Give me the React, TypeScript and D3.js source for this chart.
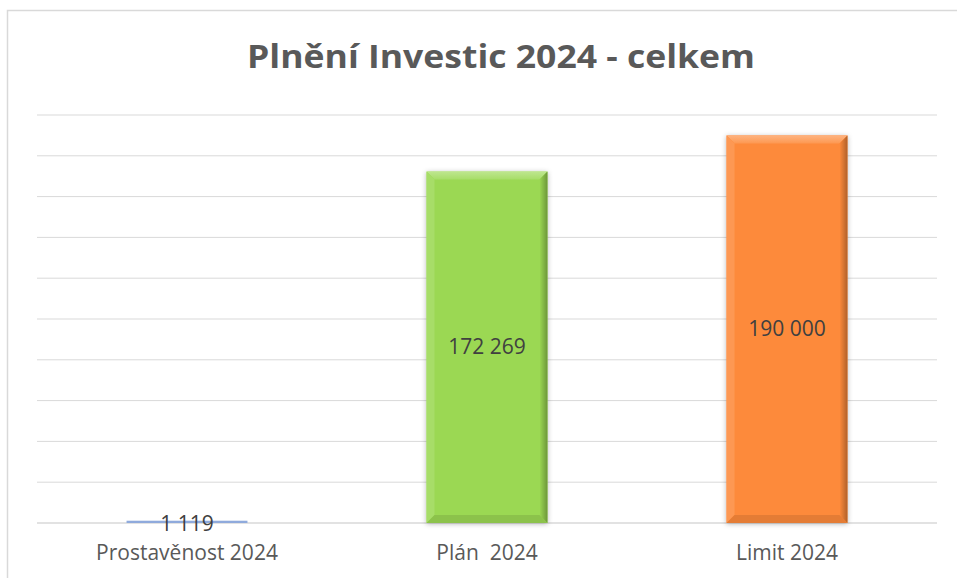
import React from "react";
import * as d3 from "d3";

const categories = ["Prostavěnost 2024", "Plán  2024", "Limit 2024"];
const values = [1119, 172269, 190000];
const valueLabels = ["1 119", "172 269", "190 000"];
const barColors = ["#8FAADC", "#9BD853", "#FD8A3A"];
const yTicks = d3.range(0, 200001, 20000);
const title = "Plnění Investic 2024 - celkem";

const W = 957;
const H = 578;

function BevelBar({ x, y, w, h, color, id }: { x: number; y: number; w: number; h: number; color: string; id: string }) {
  const light = d3.interpolateRgb(color, "#ffffff")(0.35);
  const lightSide = d3.interpolateRgb(color, "#ffffff")(0.12);
  const dark = d3.interpolateRgb(color, "#000000")(0.3);
  const darkBottom = d3.interpolateRgb(color, "#000000")(0.1);
  if (h < 16) {
    return <rect x={x} y={y} width={w} height={Math.max(h, 1)} fill={color} />;
  }
  const b = 8;
  return (
    <g filter={`url(#shadow)`}>
      <rect x={x} y={y} width={w} height={h} fill={color} />
      <polygon points={`${x},${y} ${x + w},${y} ${x + w - b},${y + b} ${x + b},${y + b}`} fill={`url(#top-${id})`} />
      <polygon points={`${x},${y} ${x + b},${y + b} ${x + b},${y + h - b} ${x},${y + h}`} fill={lightSide} />
      <polygon points={`${x + w},${y} ${x + w},${y + h} ${x + w - b},${y + h - b} ${x + w - b},${y + b}`} fill={`url(#right-${id})`} />
      <polygon points={`${x},${y + h} ${x + b},${y + h - b} ${x + w - b},${y + h - b} ${x + w},${y + h}`} fill={darkBottom} />
      <defs>
        <linearGradient id={`top-${id}`} x1="0" y1="0" x2="0" y2="1">
          <stop offset="0" stopColor={light} />
          <stop offset="1" stopColor={lightSide} />
        </linearGradient>
        <linearGradient id={`right-${id}`} x1="0" y1="0" x2="1" y2="0">
          <stop offset="0" stopColor={color} />
          <stop offset="1" stopColor={dark} />
        </linearGradient>
      </defs>
    </g>
  );
}

export default function App() {
  const plotLeft = 37;
  const plotRight = 937;
  const x = d3.scaleBand<string>().domain(categories).range([plotLeft, plotRight]).paddingInner(0.597).paddingOuter(0.2985);
  const y = d3.scaleLinear().domain([0, 200000]).range([523, 115]);
  const font = "'Open Sans', 'DejaVu Sans', sans-serif";

  return (
    <svg width={W} height={H} style={{ position: "absolute", left: 0, top: 0, background: "#fff" }} xmlns="http://www.w3.org/2000/svg">
      <defs>
        <filter id="shadow" x="-20%" y="-10%" width="140%" height="120%">
          <feDropShadow dx="0" dy="1" stdDeviation="2.5" floodColor="#000" floodOpacity="0.28" />
        </filter>
      </defs>
      <rect x={0} y={0} width={W} height={H} fill="#fff" />
      <rect x={7.5} y={10.5} width={W + 20} height={H + 20} fill="none" stroke="#d9d9d9" strokeWidth={1.5} />
      <text x={501} y={68} textAnchor="middle" fontFamily={font} fontWeight="bold" fontSize={33} fill="#595959" textLength={508} lengthAdjust="spacingAndGlyphs">
        {title}
      </text>
      {yTicks.map((t) => (
        <line key={t} x1={plotLeft} x2={plotRight} y1={y(t)} y2={y(t)} stroke="#d9d9d9" strokeWidth={t === 0 ? 1.5 : 1} />
      ))}
      {categories.map((c, i) => {
        const bx = x(c)!;
        const bw = x.bandwidth();
        const by = y(values[i]);
        const bh = y(0) - by;
        return <BevelBar key={c} id={`b${i}`} x={bx} y={by} w={bw} h={bh} color={barColors[i]} />;
      })}
      {categories.map((c, i) => {
        const cx = x(c)! + x.bandwidth() / 2;
        const by = y(values[i]);
        const mid = (by + y(0)) / 2;
        const ly = values[i] < 10000 ? y(0) + 8 : mid + 7;
        return (
          <text key={`v${i}`} x={cx} y={ly} textAnchor="middle" fontFamily={font} fontSize={21} fill="#404040">
            {valueLabels[i]}
          </text>
        );
      })}
      {categories.map((c, i) => {
        const cx = x(c)! + x.bandwidth() / 2;
        return (
          <text key={`c${i}`} x={cx} y={560} textAnchor="middle" fontFamily={font} fontSize={21} fill="#595959" style={{ whiteSpace: "pre" }}>
            {c}
          </text>
        );
      })}
    </svg>
  );
}
